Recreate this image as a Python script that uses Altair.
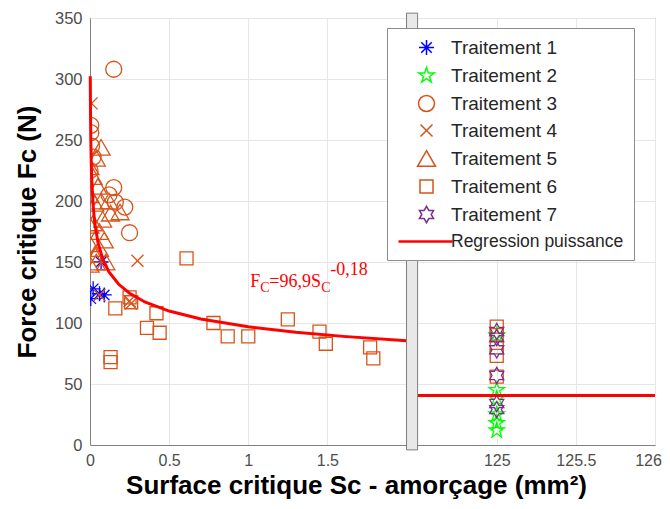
import altair as alt
import pandas as pd
import numpy as np

# ---------------- data ----------------
series_names = ["Traitement 1", "Traitement 2", "Traitement 3", "Traitement 4",
                "Traitement 5", "Traitement 6", "Traitement 7", "Regression puissance"]

t1_x = [0.005, 0.02, 0.06, 0.09, 0.07]
t1_y = [120, 128, 124, 123, 150]

t2_x = [125, 125, 125, 125, 125, 125]
t2_y = [90, 45, 38, 25, 18, 12]

t3_x = [0.15, 0.005, 0.005, 0.01, 0.02, 0.15, 0.16, 0.22, 0.25, 0.12, 0.0]
t3_y = [308, 262, 256, 245, 236, 211, 199, 195, 174, 205, 225]

t4_x = [0.01, 0.3, 0.06, 0.25, 0.26]
t4_y = [280, 151, 123, 118, 116]

t5_x = [0.07, 0.0, 0.04, 0.02, 0.05, 0.0, 0.03, 0.07, 0.13, 0.19, 0.0, 0.02,
        0.06, 0.09, 0.0, 0.03, 0.06, 0.0, 0.04, 0.1, 0.08, 0.12]
t5_y = [244, 228, 235, 220, 212, 205, 198, 200, 190, 191, 180, 182,
        175, 168, 165, 156, 161, 148, 150, 150, 185, 200]

t6_x = [0.13, 0.13, 0.16, 0.25, 0.26, 0.42, 0.36, 0.44, 0.61, 0.78, 0.87, 1.0,
        1.25, 1.45, 1.49, 1.77, 1.79, 125, 125, 125, 125, 125]
t6_y = [72, 68, 112, 121, 117, 108, 96, 92, 153, 100, 89, 89,
        103, 93, 83, 80, 71, 97, 90, 80, 73, 56]

t7_x = [125, 125, 125, 125, 125, 125]
t7_y = [93, 78, 57, 34, 29, 88]

# power regression  Fc = 96.9 * Sc^-0.18
reg_a = 96.9
reg_b = -0.18
reg_left_x = [0.0018, 0.003, 0.005, 0.008, 0.012, 0.02, 0.03, 0.05, 0.08, 0.12,
              0.18, 0.25, 0.35, 0.5, 0.7, 1.0, 1.3, 1.6, 2.0]
reg_right_x = [124.5, 125.0, 125.5, 126.0]

# axis
x_tick_values = [0, 0.5, 1, 1.5, 125, 125.5, 126]
x_tick_labels = ["0", "0.5", "1", "1.5", "125", "125.5", "126"]
y_tick_values = [0, 50, 100, 150, 200, 250, 300, 350]

# broken axis: [0, 2] | gap | [124.5, 126]
LEFT_MAX = 2.0
GAP = 0.07
RIGHT_MIN = 124.5
RIGHT_MAX = 126.0


def tx(v):
    return v if v <= LEFT_MAX + 1 else v - RIGHT_MIN + LEFT_MAX + GAP


X_END = tx(RIGHT_MAX)

# ---------------- marker shapes (unit = 7.07 px at size 200) ----------------
def scale_path(cmds, k):
    out = []
    for c, pts_ in cmds:
        out.append(c + ",".join(f"{p * k:.3f}" for p in pts_))
    return "".join(out)


def polygon(coords, k):
    return "M" + "L".join(f"{x * k:.3f},{y * k:.3f}" for x, y in coords) + "Z"


asterisk = scale_path([("M", (0, -1)), ("L", (0, 1)), ("M", (-1, 0)), ("L", (1, 0)),
                       ("M", (-0.7, -0.7)), ("L", (0.7, 0.7)),
                       ("M", (-0.7, 0.7)), ("L", (0.7, -0.7))], 1.06)
pentagram = polygon([(0, -1), (0.2245, -0.309), (0.951, -0.309), (0.363, 0.118),
                     (0.588, 0.809), (0, 0.382), (-0.588, 0.809), (-0.363, 0.118),
                     (-0.951, -0.309), (-0.2245, -0.309)], 1.15)
r_c = 1.13
circle = f"M{-r_c},0A{r_c},{r_c} 0 1,0 {r_c},0A{r_c},{r_c} 0 1,0 {-r_c},0Z"
xmark = scale_path([("M", (-1, -1)), ("L", (1, 1)), ("M", (-1, 1)), ("L", (1, -1))], 0.85)
triangle = polygon([(0, -0.866), (1, 0.866), (-1, 0.866)], 1.27)
square = polygon([(-1, -1), (1, -1), (1, 1), (-1, 1)], 0.92)
hexagram = polygon([(0, -1), (0.289, -0.5), (0.866, -0.5), (0.577, 0), (0.866, 0.5),
                    (0.289, 0.5), (0, 1), (-0.289, 0.5), (-0.866, 0.5), (-0.577, 0),
                    (-0.866, -0.5), (-0.289, -0.5)], 1.15)
legend_line = polygon([(-3.85, -0.07), (3.6, -0.07), (3.6, 0.07), (-3.85, 0.07)], 1.0)

colors = ["#0000FF", "#00FF00", "#D95319", "#D95319", "#D95319", "#D95319", "#7E2F8E", "#FF0000"]
shapes = [asterisk, pentagram, circle, xmark, triangle, square, hexagram, legend_line]

# ---------------- build tables ----------------
rows = []
for name, xs, ys in [
    (series_names[0], t1_x, t1_y), (series_names[1], t2_x, t2_y),
    (series_names[2], t3_x, t3_y), (series_names[3], t4_x, t4_y),
    (series_names[4], t5_x, t5_y), (series_names[5], t6_x, t6_y),
    (series_names[6], t7_x, t7_y)]:
    for xv, yv in zip(xs, ys):
        rows.append({"series": name, "x": tx(xv), "y": yv})
pts = pd.DataFrame(rows)

reg_rows = []
for seg, xs in [("L", reg_left_x), ("R", reg_right_x)]:
    for xv in xs:
        reg_rows.append({"series": series_names[7], "seg": seg, "x": tx(xv),
                         "y": reg_a * xv ** reg_b})
reg = pd.DataFrame(reg_rows)

band = pd.DataFrame({"x": [LEFT_MAX], "x2": [LEFT_MAX + GAP], "y": [-4], "y2": [354]})

label_expr = ""
for v, lab in zip(x_tick_values, x_tick_labels):
    label_expr += f"abs(datum.value - {tx(v):.4f}) < 0.01 ? '{lab}' : "
label_expr += "''"

xscale = alt.Scale(domain=[0, X_END], nice=False, zero=False)
yscale = alt.Scale(domain=[0, 350], nice=False)

x_axis = alt.Axis(values=[tx(v) for v in x_tick_values], labelExpr=label_expr,
                  title="Surface critique Sc - amorçage (mm²)", grid=True, ticks=False,
                  labelFlush=False, labelPadding=7, titlePadding=4, titleFontSize=26,
                  titleX=266, titleAlign="center",
                  labelOffset={"condition": {"test": f"datum.value > {X_END - 0.05}", "value": -7},
                               "value": 0})
y_axis = alt.Axis(values=y_tick_values, title="Force critique Fc (N)", grid=True,
                  ticks=False, labelPadding=8, titlePadding=14, titleFontSize=26,
                  labelFontSize=16.5)

color_scale = alt.Scale(domain=series_names, range=colors)
shape_scale = alt.Scale(domain=series_names, range=shapes)

legend = alt.Legend(title=None, orient="none", legendX=297, legendY=10,
                    fillColor="white", strokeColor="#8c8c8c", padding=10,
                    labelFontSize={"expr": "datum.label == 'Regression puissance' ? 17.5 : 19"},
                    labelColor="#262626", labelFont="Liberation Sans", labelLimit=400,
                    rowPadding=6, symbolSize=200, symbolStrokeWidth=1.5,
                    symbolOffset=20, labelOffset=15)

points = alt.Chart(pts).mark_point(filled=False, strokeWidth=1.3, opacity=1, size=200,
                                   clip=True).encode(
    x=alt.X("x:Q", scale=xscale, axis=x_axis),
    y=alt.Y("y:Q", scale=yscale, axis=y_axis),
    color=alt.Color("series:N", scale=color_scale, legend=legend),
    shape=alt.Shape("series:N", scale=shape_scale, legend=legend),
)

lines = alt.Chart(reg).mark_line(strokeWidth=3).encode(
    x=alt.X("x:Q", scale=xscale),
    y=alt.Y("y:Q", scale=yscale),
    color=alt.Color("series:N", scale=color_scale, legend=None),
    detail="seg:N",
)

band_layer = alt.Chart(band).mark_rect(fill="#e8e8e8", stroke="#7f7f7f", strokeWidth=1).encode(
    x=alt.X("x:Q", scale=xscale), x2="x2", y=alt.Y("y:Q", scale=yscale), y2="y2")

# annotation  F_C=96,9 S_C^-0,18
ann_x = 1.013
ann_y = 129.5
ann_pieces = [("F", 0, 0, 18), ("C", 10, 5, 14), ("=96,9S", 19, 0, 18),
              ("C", 71, 5, 14), ("-0,18", 80, -12, 18)]
ann_df = pd.DataFrame({"x": [ann_x], "y": [ann_y]})
ann_layers = []
for txt, dx, dy, fs in ann_pieces:
    ann_layers.append(
        alt.Chart(ann_df).mark_text(text=txt, dx=dx, dy=dy, fontSize=fs, align="left",
                                    baseline="alphabetic", color="#FF0000",
                                    font="Liberation Serif").encode(
            x=alt.X("x:Q", scale=xscale), y=alt.Y("y:Q", scale=yscale)))

chart = alt.layer(points, lines, band_layer, *ann_layers).properties(
    width=565, height=427,
    autosize=alt.AutoSizeParams(type="none"),
    padding={"left": 82, "top": 10, "right": 7, "bottom": 56},
).configure_view(stroke="#808080", strokeWidth=1).configure_axis(
    labelFont="Liberation Sans", labelFontSize=16, labelColor="#4d4d4d",
    titleFont="Liberation Sans", titleFontWeight="bold", titleColor="#000000",
    gridColor="#e6e6e6", domainColor="#808080",
)

chart.save("out.html", embed_options={"renderer": "svg", "actions": False})
